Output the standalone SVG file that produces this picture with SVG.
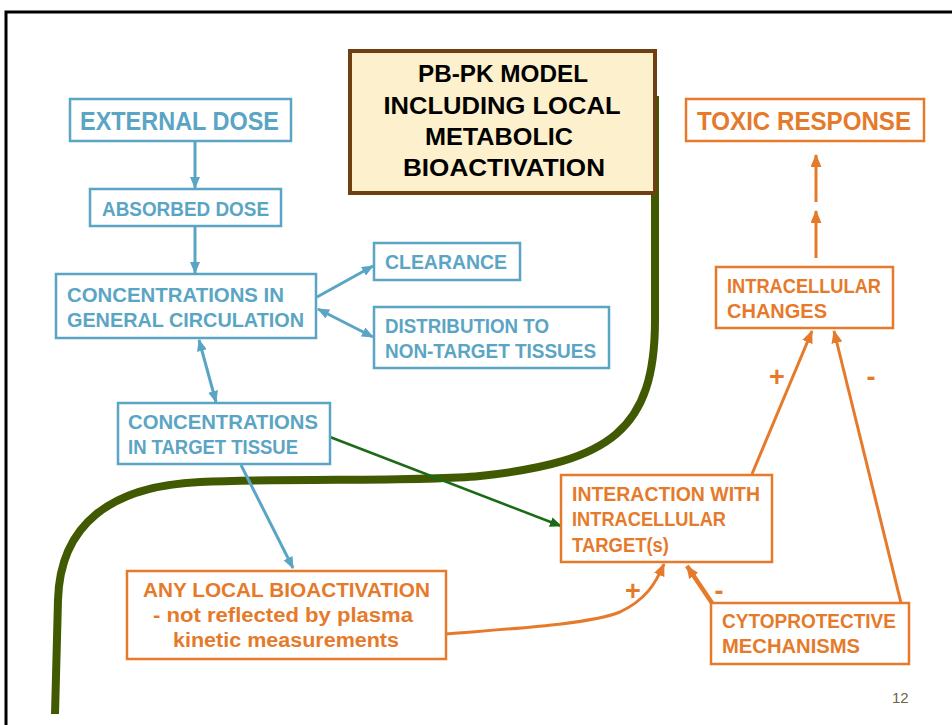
<svg xmlns="http://www.w3.org/2000/svg" width="952" height="725" viewBox="0 0 952 725">
<style>
text{font-family:"Liberation Sans",Arial,sans-serif;font-weight:bold}
.b{fill:#5aa5c4;font-size:20px}
.o{fill:#e57a2b;font-size:20px}
.s{fill:#e57a2b;font-size:27px}
.bb{fill:none;stroke:#5aa5c4;stroke-width:2.5}
.ob{fill:none;stroke:#e57a2b;stroke-width:2.5}
.bl{fill:none;stroke:#5aa5c4;stroke-width:3}
.ol{fill:none;stroke:#e57a2b;stroke-width:3}
.pk{fill:#000;font-size:24px}
</style>
<defs>
<marker id="ab" markerUnits="userSpaceOnUse" markerWidth="12" markerHeight="10" refX="11" refY="5" orient="auto-start-reverse" viewBox="0 0 12 10"><path d="M0,0 L12,5 L0,10 z" fill="#5aa5c4"/></marker>
<marker id="ao" markerUnits="userSpaceOnUse" markerWidth="13" markerHeight="11" refX="12" refY="5.5" orient="auto" viewBox="0 0 13 11"><path d="M0,0 L13,5.5 L0,11 z" fill="#e57a2b"/></marker>
<marker id="ag" markerUnits="userSpaceOnUse" markerWidth="12" markerHeight="10" refX="11" refY="5" orient="auto" viewBox="0 0 12 10"><path d="M0,0 L12,5 L0,10 z" fill="#1b6b16"/></marker>
</defs>
<rect width="952" height="725" fill="#fff"/>
<path d="M6,725 L6,12 L952,12" fill="none" stroke="#000" stroke-width="3"/>

<g id="boundary">
<path d="M655,96 L655,320 C655,430 610,462 480,476 C420,482 300,478 200,482 C110,486 60,525 58,600 L55,714" fill="none" stroke="#415a02" stroke-width="8"/>
</g>

<g id="connectors">
<line class="bl" x1="195" y1="142" x2="195" y2="188" marker-end="url(#ab)"/>
<line class="bl" x1="195" y1="226" x2="195" y2="273" marker-end="url(#ab)"/>
<line class="bl" x1="317" y1="297" x2="373" y2="266" marker-end="url(#ab)"/>
<line class="bl" x1="318" y1="309" x2="373" y2="337" marker-start="url(#ab)" marker-end="url(#ab)"/>
<line class="bl" x1="199" y1="340" x2="216" y2="402" marker-start="url(#ab)" marker-end="url(#ab)"/>
<line class="bl" x1="241" y1="465" x2="293" y2="568" marker-end="url(#ab)"/>
<line x1="330" y1="437" x2="561" y2="526" stroke="#1b6b16" stroke-width="2.5" marker-end="url(#ag)"/>
<line class="ol" x1="816" y1="258" x2="816" y2="211" marker-end="url(#ao)"/>
<line class="ol" x1="816" y1="202" x2="816" y2="155" marker-end="url(#ao)"/>
<line class="ol" x1="752" y1="474" x2="812" y2="331" marker-end="url(#ao)"/>
<line class="ol" x1="901" y1="603" x2="834" y2="331" marker-end="url(#ao)"/>
<path class="ol" d="M446,634 C520,628 590,624 620,612 C645,600 655,585 664,564" marker-end="url(#ao)"/>
<line x1="712" y1="603" x2="687" y2="566" stroke="#e57a2b" stroke-width="4.5" marker-end="url(#ao)"/>
<text class="s" x="777" y="386" text-anchor="middle">+</text>
<text class="s" x="871" y="386" text-anchor="middle">-</text>
<text class="s" x="633" y="600" text-anchor="middle">+</text>
<text class="s" x="719" y="600" text-anchor="middle">-</text>
</g>

<g id="pbpk">
<rect x="350" y="51" width="305" height="142" fill="#fdf0cc" stroke="#6e3f12" stroke-width="4"/>
<text class="pk" x="503" y="82" text-anchor="middle" textLength="170" lengthAdjust="spacingAndGlyphs">PB-PK MODEL</text>
<text class="pk" x="502" y="114" text-anchor="middle" textLength="237" lengthAdjust="spacingAndGlyphs">INCLUDING LOCAL</text>
<text class="pk" x="499" y="145" text-anchor="middle" textLength="148" lengthAdjust="spacingAndGlyphs">METABOLIC</text>
<text class="pk" x="504" y="176" text-anchor="middle" textLength="202" lengthAdjust="spacingAndGlyphs">BIOACTIVATION</text>
</g>

<g id="external-dose">
<rect class="bb" x="70" y="99" width="221" height="42" stroke-width="3"/>
<text class="b" x="80" y="130" style="font-size:25px" textLength="199" lengthAdjust="spacingAndGlyphs">EXTERNAL DOSE</text>
</g>
<g id="absorbed-dose">
<rect class="bb" x="90" y="189" width="191" height="37"/>
<text class="b" x="102" y="216" textLength="167" lengthAdjust="spacingAndGlyphs">ABSORBED DOSE</text>
</g>
<g id="general-circulation">
<rect class="bb" x="56" y="274" width="260" height="64"/>
<text class="b" x="67" y="302" textLength="217" lengthAdjust="spacingAndGlyphs">CONCENTRATIONS IN</text>
<text class="b" x="67" y="327" textLength="237" lengthAdjust="spacingAndGlyphs">GENERAL CIRCULATION</text>
</g>
<g id="clearance">
<rect class="bb" x="374" y="243" width="146" height="37"/>
<text class="b" x="385" y="269" textLength="122" lengthAdjust="spacingAndGlyphs">CLEARANCE</text>
</g>
<g id="distribution">
<rect class="bb" x="374" y="307" width="235" height="61"/>
<text class="b" x="385" y="333" textLength="164" lengthAdjust="spacingAndGlyphs">DISTRIBUTION TO</text>
<text class="b" x="385" y="358" textLength="211" lengthAdjust="spacingAndGlyphs">NON-TARGET TISSUES</text>
</g>
<g id="target-tissue">
<rect class="bb" x="118" y="403" width="212" height="61"/>
<text class="b" x="128" y="429" textLength="190" lengthAdjust="spacingAndGlyphs">CONCENTRATIONS</text>
<text class="b" x="128" y="454" textLength="170" lengthAdjust="spacingAndGlyphs">IN TARGET TISSUE</text>
</g>

<g id="local-bioactivation">
<rect class="ob" x="127" y="571" width="319" height="88"/>
<text class="o" x="143" y="597" textLength="287" lengthAdjust="spacingAndGlyphs">ANY LOCAL BIOACTIVATION</text>
<text class="o" x="153" y="622" textLength="260" lengthAdjust="spacingAndGlyphs">- not reflected by plasma</text>
<text class="o" x="173" y="647" textLength="226" lengthAdjust="spacingAndGlyphs">kinetic measurements</text>
</g>
<g id="interaction">
<rect class="ob" x="561" y="475" width="211" height="87"/>
<text class="o" x="572" y="501" textLength="188" lengthAdjust="spacingAndGlyphs">INTERACTION WITH</text>
<text class="o" x="572" y="526" textLength="154" lengthAdjust="spacingAndGlyphs">INTRACELLULAR</text>
<text class="o" x="572" y="552" textLength="97" lengthAdjust="spacingAndGlyphs">TARGET(s)</text>
</g>
<g id="cytoprotective">
<rect class="ob" x="711" y="603" width="198" height="61"/>
<text class="o" x="722" y="628" textLength="174" lengthAdjust="spacingAndGlyphs">CYTOPROTECTIVE</text>
<text class="o" x="722" y="653" textLength="138" lengthAdjust="spacingAndGlyphs">MECHANISMS</text>
</g>
<g id="intracellular-changes">
<rect class="ob" x="716" y="267" width="177" height="61"/>
<text class="o" x="727" y="293" textLength="154" lengthAdjust="spacingAndGlyphs">INTRACELLULAR</text>
<text class="o" x="727" y="318" textLength="100" lengthAdjust="spacingAndGlyphs">CHANGES</text>
</g>
<g id="toxic-response">
<rect class="ob" x="686" y="99" width="238" height="42" stroke-width="3"/>
<text class="o" x="697" y="130" style="font-size:25px" textLength="214" lengthAdjust="spacingAndGlyphs">TOXIC RESPONSE</text>
</g>

<text x="892" y="703" style="font-weight:normal;font-size:15px;fill:#6f6348">12</text>
</svg>
